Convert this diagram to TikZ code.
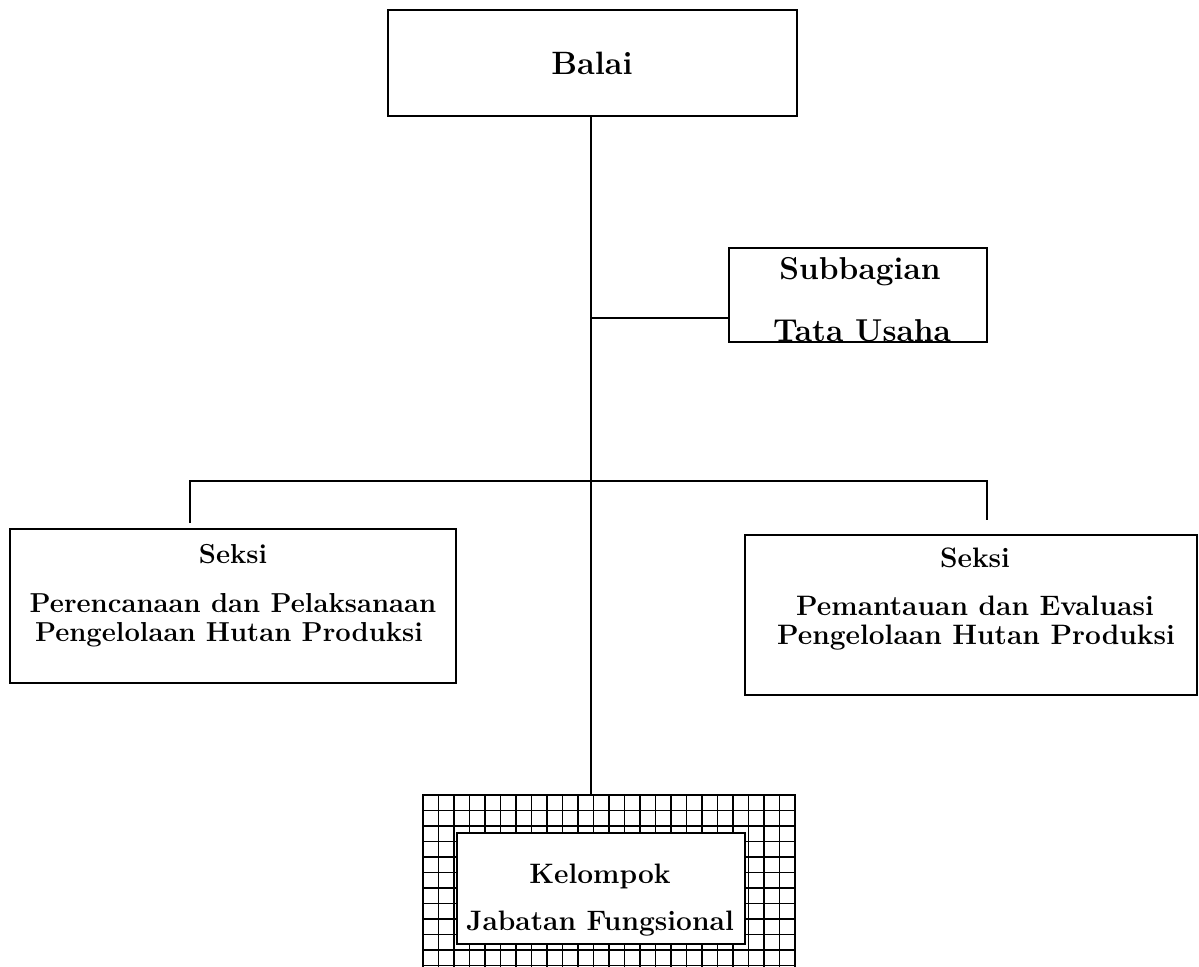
\documentclass[tikz,border=0pt]{standalone}
\usetikzlibrary{calc}
\tikzstyle{box}=[rectangle,fill=white,inner sep=0pt,line width=1.1pt,draw=black,anchor=center]
\tikzstyle{annot}=[align=center,anchor=base,inner sep=0pt,font=\bfseries]
\tikzstyle{conn}=[line width=1pt]
\newcommand{\sizeA}{\bfseries\fontsize{19.5}{23}\selectfont}
\newcommand{\sizeB}{\bfseries\fontsize{20}{24}\selectfont}
\newcommand{\sizeC}{\bfseries\fontsize{22.5}{27}\selectfont}

\begin{document}
\begin{tikzpicture}[x=0.025cm,y=-0.025cm]
	\useasboundingbox (0,0) rectangle (1199,967);

	% boxes
	\node[box, minimum width=10.225cm, minimum height=2.65cm](balai) at (592.5,63){};
	\node[box, minimum width=6.45cm, minimum height=2.35cm](sub) at (858,295){};
	\node[box, minimum width=11.15cm, minimum height=3.85cm](seksia) at (233,606){};
	\node[box, minimum width=11.3cm, minimum height=4cm](seksib) at (971,615){};
	\node[box, fill=none, minimum width=9.3cm, minimum height=4.875cm](kelgrid) at (609,892.5){};
	\begin{scope}
		\clip (kelgrid.north west) rectangle (kelgrid.south east);
		\foreach \i in {0,...,24} \draw[line width=1.3pt] (423+\i*15.5,795) -- ++(0,200);
		\foreach \j in {0,...,12} \draw[line width=1.3pt] (423,795+\j*15.5) -- ++(380,0);
	\end{scope}
	\node[box, minimum width=7.2cm, minimum height=2.775cm](kel) at (601,888.5){};

	% texts
	\node[annot, font=\bfseries\fontsize{23}{27}\selectfont] (tbalai) at (592,74) {Balai};
	\node[annot, font=\sizeC] (tsub1) at (860,279) {Subbagian};
	\node[annot, font=\sizeC] (tsub2) at (862,341) {Tata Usaha};
	\node[annot, font=\sizeA] (ta1) at (233,563) {Seksi};
	\node[annot, font=\sizeA] (ta2) at (233,612) {Perencanaan dan Pelaksanaan};
	\node[annot, font=\sizeA] (ta3) at (229,641) {Pengelolaan Hutan Produksi};
	\node[annot, font=\sizeB] (tb1) at (975,567) {Seksi};
	\node[annot, font=\sizeB] (tb2) at (975,615) {Pemantauan dan Evaluasi};
	\node[annot, font=\sizeB] (tb3) at (976,644) {Pengelolaan Hutan Produksi};
	\node[annot, font=\sizeB] (tk1) at (600,883) {Kelompok};
	\node[annot, font=\sizeB] (tk2) at (600,930) {Jabatan Fungsional};

	% lines
	\coordinate (trunk) at (591,116);
	\coordinate (subjoin) at (591,318);
	\coordinate (split) at (591,481);
	\coordinate (atop) at (190,523);
	\coordinate (btop) at (987,520);
	\draw[conn] (trunk) -- (trunk |- kelgrid.north);
	\draw[conn] (subjoin) -- (subjoin -| sub.west);
	\draw[conn] (atop) |- (split) -| (btop);
\end{tikzpicture}
\end{document}
